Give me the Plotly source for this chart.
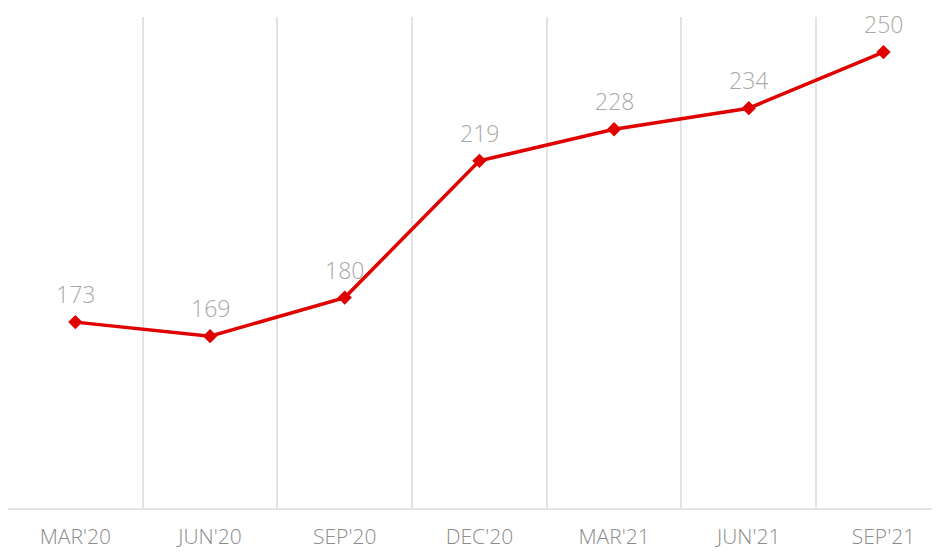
import plotly.graph_objects as go

categories = ["MAR'20", "JUN'20", "SEP'20", "DEC'20", "MAR'21", "JUN'21", "SEP'21"]
values = [173, 169, 180, 219, 228, 234, 250]

RED = "#e00000"
GREY_TEXT = "#a8a8a8"
GRID = "#e3e3e3"
FONT = "Open Sans"

fig = go.Figure()
fig.add_trace(go.Scatter(
    x=categories, y=values, mode="lines+markers",
    line=dict(color=RED, width=3.5),
    marker=dict(symbol="diamond", size=11, color=RED),
    hoverinfo="skip",
))

for c, v in zip(categories, values):
    fig.add_annotation(x=c, y=v, text=str(v), showarrow=False, yshift=28,
                       borderpad=0,
                       font=dict(family=FONT, size=23, color=GREY_TEXT, weight=300))

fig.update_layout(
    width=940, height=553,
    margin=dict(l=0, r=0, t=9, b=53),
    paper_bgcolor="white", plot_bgcolor="white",
    showlegend=False,
    xaxis=dict(
        type="category", range=[-0.5, 6.479], tickson="boundaries",
        showgrid=True, gridcolor=GRID, gridwidth=1.5,
        showline=True, linecolor=GRID, linewidth=1.5,
        ticks="", ticklen=0, ticklabelstandoff=9,
        tickfont=dict(family=FONT, size=21, color="#8c8c8c", weight=300),
        fixedrange=True,
    ),
    yaxis=dict(
        range=[120, 260], showgrid=False, zeroline=False, showticklabels=False,
        showline=False, fixedrange=True,
    ),
)

fig.write_html("out.html")
